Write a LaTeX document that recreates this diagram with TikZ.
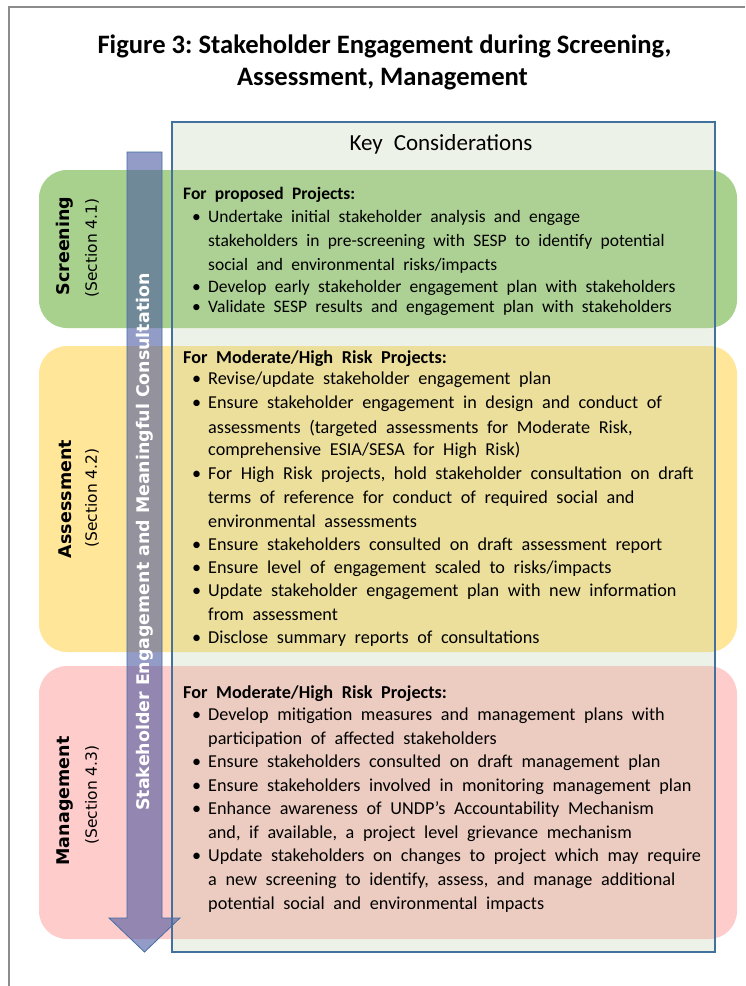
\documentclass[tikz,border=0pt]{standalone}
\usepackage{fontspec}
\setmainfont{Carlito}
\newfontfamily\bodyfont{Carlito}[WordSpace=2.1]
\newfontfamily\dvfont{DejaVu Sans}
\frenchspacing
\definecolor{scrgreen}{RGB}{169,209,142}
\definecolor{assyellow}{RGB}{255,230,153}
\definecolor{mgtpink}{RGB}{255,204,204}
\definecolor{keyblue}{RGB}{65,113,156}
\definecolor{keyfill}{RGB}{185,207,167}
\definecolor{arrowfill}{RGB}{75,90,160}
\definecolor{arrowline}{RGB}{70,110,165}
\definecolor{framegray}{RGB}{140,140,140}
\newcommand\hdline[3]{\node[body] (#1) at (183,#2) {\bfseries #3};}
\newcommand\blline[3]{\node[body] (#1) at (192,#2) {\makebox[16pt][l]{\textbullet}#3};}
\newcommand\ctline[3]{\node[body] (#1) at (208,#2) {#3};}
\begin{document}
\begin{tikzpicture}[x=1pt,y=-1pt,
  phase/.style={fill=#1, draw=none, rounded corners=28pt},
  body/.style={anchor=base west, inner sep=0pt, font=\bodyfont\fontsize{18.2}{21}\selectfont},
  titletext/.style={anchor=base, inner sep=0pt, font=\bfseries\fontsize{26.6}{30}\selectfont},
  phasename/.style={anchor=center, inner sep=0pt, rotate=90, font=\dvfont\bfseries\fontsize{17.5}{20}\selectfont},
  phasesec/.style={anchor=center, inner sep=0pt, rotate=90, font=\dvfont\fontsize{15.5}{18}\selectfont},
  arrowtext/.style={anchor=center, inner sep=0pt, rotate=90, text=white, font=\dvfont\bfseries\fontsize{17.4}{20}\selectfont}
]
\useasboundingbox (0,0) rectangle (745,986);
\fill[white] (0,0) rectangle (745,986);
% outer frame
\draw[framegray, line width=1.5pt] (9,986) -- (9,7) -- (745,7);
% title
\node[titletext] (title1) at (384.5,53) {Figure 3: Stakeholder Engagement during Screening,};
\node[titletext] (title2) at (382.5,85) {Assessment, Management};
% phase bands
\path[phase=scrgreen] (39,170) rectangle (737,328);
\path[phase=assyellow] (39,346) rectangle (737,652);
\path[phase=mgtpink] (39,666) rectangle (737,939);
% key considerations box fill
\fill[keyfill, fill opacity=0.27] (172,122) rectangle (715,952);
% arrow
\draw[arrowline, line width=0.8pt, fill=arrowfill, fill opacity=0.6, line join=miter]
  (127,152) -- (162,152) -- (162,918) -- (180,918) -- (144.5,952) -- (109,918) -- (127,918) -- cycle;
% key box border
\draw[keyblue, line width=2.2pt] (172,122) rectangle (715,952);
\node[anchor=base, inner sep=0pt, font=\bodyfont\fontsize{23}{27}\selectfont] (keyhead) at (441,150) {Key Considerations};
% arrow text
\node[arrowtext] (arrowlabel) at (144.5,542) {Stakeholder Engagement and Meaningful Consultation};
% phase labels
\node[phasename] (scrname) at (65,246) {Screening};
\node[phasesec] (scrsec) at (92,248) {(Section 4.1)};
\node[phasename] (assname) at (65,499) {Assessment};
\node[phasesec] (asssec) at (92,498) {(Section 4.2)};
\node[phasename] (mgtname) at (65,801) {Management};
\node[phasesec] (mgtsec) at (92,795) {(Section 4.3)};
% screening text
\begin{scope}[body/.append style={font=\bodyfont\fontsize{17.5}{21}\selectfont}]
\hdline{s0}{199}{For proposed Projects:}
\blline{s1}{222}{Undertake initial stakeholder analysis and engage}
\ctline{s1b}{246}{stakeholders in pre-screening with SESP to identify potential}
\ctline{s1c}{270}{social and environmental risks/impacts}
\blline{s2}{292}{Develop early stakeholder engagement plan with stakeholders}
\blline{s3}{312}{Validate SESP results and engagement plan with stakeholders}
\end{scope}
% assessment text
\hdline{a0}{363}{For Moderate/High Risk Projects:}
\blline{a1}{384}{Revise/update stakeholder engagement plan}
\blline{a2}{408}{Ensure stakeholder engagement in design and conduct of}
\ctline{a2b}{433}{assessments (targeted assessments for Moderate Risk,}
\ctline{a2c}{455}{comprehensive ESIA/SESA for High Risk)}
\blline{a3}{479}{For High Risk projects, hold stakeholder consultation on draft}
\ctline{a3b}{503}{terms of reference for conduct of required social and}
\ctline{a3c}{527}{environmental assessments}
\blline{a4}{550}{Ensure stakeholders consulted on draft assessment report}
\blline{a5}{573}{Ensure level of engagement scaled to risks/impacts}
\blline{a6}{596}{Update stakeholder engagement plan with new information}
\ctline{a6b}{620}{from assessment}
\blline{a7}{643}{Disclose summary reports of consultations}
% management text
\hdline{m0}{698}{For Moderate/High Risk Projects:}
\blline{m1}{720}{Develop mitigation measures and management plans with}
\ctline{m1b}{744}{participation of affected stakeholders}
\blline{m2}{767}{Ensure stakeholders consulted on draft management plan}
\blline{m3}{791}{Ensure stakeholders involved in monitoring management plan}
\blline{m4}{814}{Enhance awareness of UNDP’s Accountability Mechanism}
\ctline{m4b}{838}{and, if available, a project level grievance mechanism}
\blline{m5}{861}{Update stakeholders on changes to project which may require}
\ctline{m5b}{885}{a new screening to identify, assess, and manage additional}
\ctline{m5c}{909}{potential social and environmental impacts}
\end{tikzpicture}
\end{document}
